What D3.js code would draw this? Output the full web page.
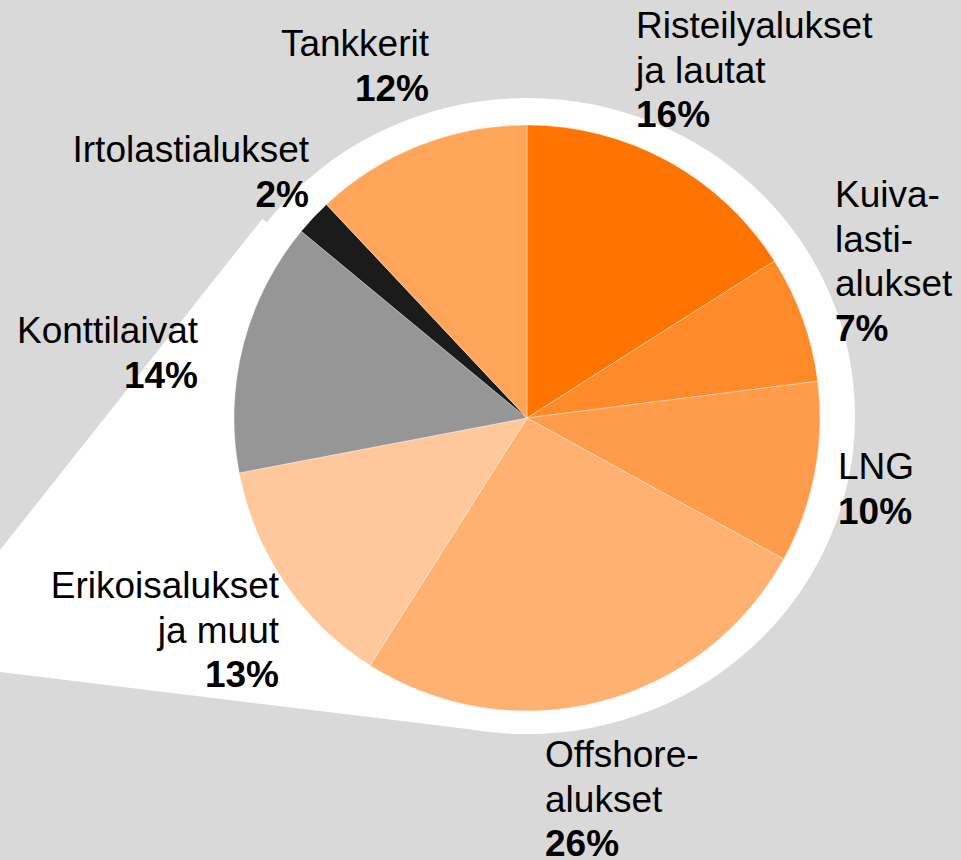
<!DOCTYPE html>
<html>
<head>
<meta charset="utf-8">
<script src="https://cdn.jsdelivr.net/npm/d3@7"></script>
<style>
  html, body { margin: 0; padding: 0; background: #d9d9d9; }
  svg { display: block; }
  text { font-family: "Liberation Sans", Arial, sans-serif; font-size: 37px; fill: #000; }
</style>
</head>
<body>
<svg id="chart"></svg>
<script>
// Data
const categories = [
    ["Risteilyalukset", "ja lautat"],
    ["Kuiva-", "lasti-", "alukset"],
    ["LNG"],
    ["Offshore-", "alukset"],
    ["Erikoisalukset", "ja muut"],
    ["Konttilaivat"],
    ["Irtolastialukset"],
    ["Tankkerit"]
];
const values = [16, 7, 10, 26, 13, 14, 2, 12];
const colors = ["#ff7300", "#ff8a2a", "#ff9c4b", "#ffb171", "#fec89c", "#969696", "#1b1b1b", "#ffa55a"];

// Label placement (anchor point of first baseline)
const labelLayout = [
    { x: 636, y: 38, anchor: "start" },
    { x: 835, y: 207, anchor: "start" },
    { x: 838, y: 479, anchor: "start" },
    { x: 545, y: 767, anchor: "start" },
    { x: 279, y: 598, anchor: "end" },
    { x: 198, y: 343, anchor: "end" },
    { x: 309, y: 162, anchor: "end" },
    { x: 429, y: 56, anchor: "end" }
];

const width = 961;
const height = 860;
const cx = 527, cy = 418;
const radius = 293;
const lineHeight = 44.5;

const svg = d3.select("#chart")
    .attr("width", width)
    .attr("height", height);

svg.append("rect")
    .attr("width", width)
    .attr("height", height)
    .attr("fill", "#d9d9d9");

// White callout: ellipse ring + wedge coming in from the left
const ring = { x: 527, y: 416, rx: 328, ry: 318 };

function tangentPoint(a, b, c) {
    // line a*x + b*y = c, closest contact with the ring ellipse
    const cc = c - a * ring.x - b * ring.y;
    const s = a * a * ring.rx * ring.rx + b * b * ring.ry * ring.ry;
    return [ring.x + cc * a * ring.rx * ring.rx / s, ring.y + cc * b * ring.ry * ring.ry / s];
}

// upper edge: y = 550 - 1.2625x, lower edge: y = 672 + 0.122x
const tUp = tangentPoint(1.2625, 1, 550);
const tLow = tangentPoint(0.122, -1, -672);
const wedge = [
    [-20, 550 + 1.2625 * 20],
    tUp,
    [ring.x, ring.y],
    tLow,
    [-20, 672 - 0.122 * 20]
];

svg.append("path")
    .attr("d", d3.line()(wedge) + "Z")
    .attr("fill", "#fff");

svg.append("ellipse")
    .attr("cx", ring.x)
    .attr("cy", ring.y)
    .attr("rx", ring.rx)
    .attr("ry", ring.ry)
    .attr("fill", "#fff");

// Pie
const pie = d3.pie().sort(null).value(d => d);
const arc = d3.arc().innerRadius(0).outerRadius(radius);

const g = svg.append("g")
    .attr("transform", `translate(${cx}, ${cy})`);

g.selectAll("path.slice")
    .data(pie(values))
    .enter()
    .append("path")
    .attr("class", "slice")
    .attr("d", arc)
    .attr("fill", (d, i) => colors[i])
    .attr("stroke", "#fff")
    .attr("stroke-opacity", 0.45)
    .attr("stroke-width", 0.8);

// Labels
const labels = svg.selectAll("text.label")
    .data(categories)
    .enter()
    .append("text")
    .attr("class", "label")
    .attr("x", (d, i) => labelLayout[i].x)
    .attr("y", (d, i) => labelLayout[i].y)
    .attr("text-anchor", (d, i) => labelLayout[i].anchor);

labels.each(function(lines, i) {
    const t = d3.select(this);
    lines.forEach((line, j) => {
        t.append("tspan")
            .attr("x", labelLayout[i].x)
            .attr("dy", j === 0 ? 0 : lineHeight)
            .text(line);
    });
    t.append("tspan")
        .attr("x", labelLayout[i].x)
        .attr("dy", lineHeight)
        .style("font-weight", "bold")
        .text(values[i] + "%");
});
</script>
</body>
</html>
